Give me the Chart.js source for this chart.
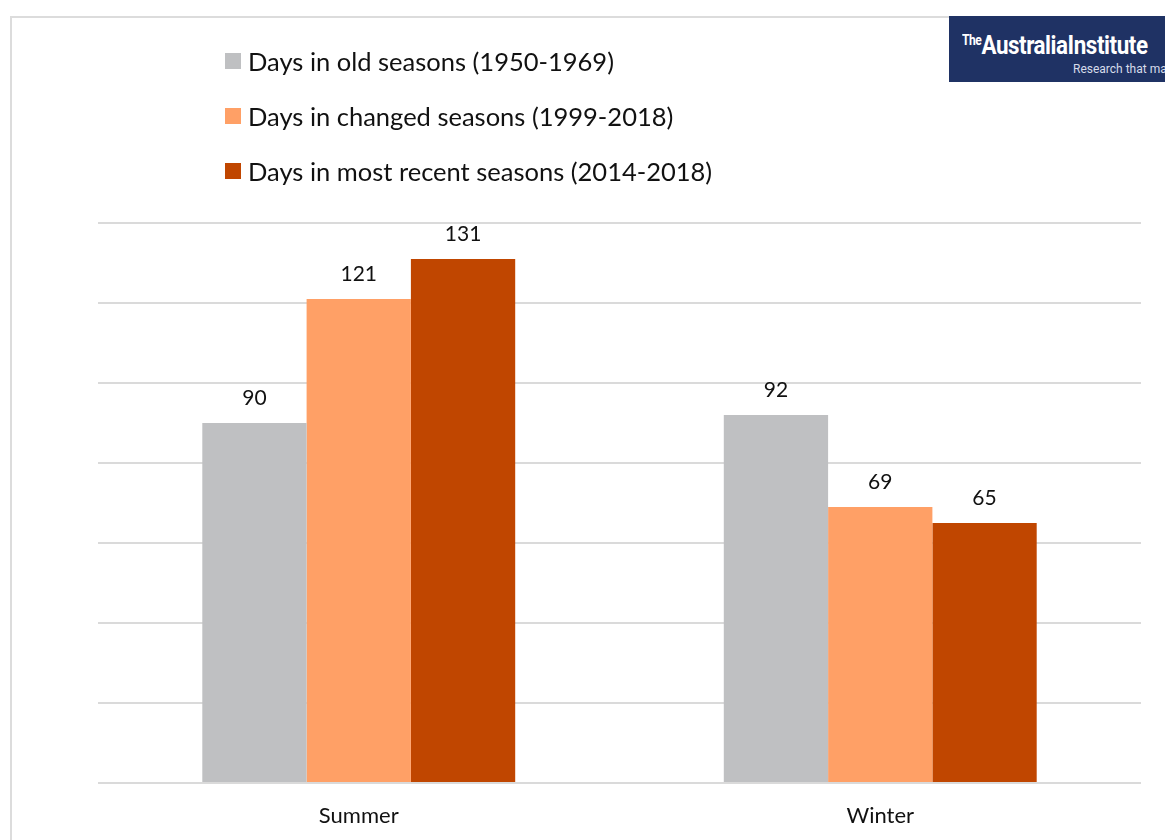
<!DOCTYPE html>
<html>
<head>
<meta charset="utf-8">
<script src="https://cdn.jsdelivr.net/npm/chart.js@4"></script>
<style>
  html, body { margin: 0; padding: 0; background: #fff; overflow: hidden; }
  #wrap { position: relative; width: 1165px; height: 840px; overflow: hidden; }
  #frame { position: absolute; left: 10px; top: 16px; width: 1200px; height: 900px; border: 2px solid #dcdcdc; box-sizing: border-box; }
  #chartCanvas { position: absolute; left: 0; top: 0; }
  #legend { position: absolute; left: 225px; top: 44px; font-family: Lato, "Open Sans", sans-serif; font-size: 25.5px; color: #111; }
  #legend .item { display: flex; align-items: center; height: 34px; margin-bottom: 21px; white-space: nowrap; }
  #legend .sw { width: 16px; height: 16px; margin-right: 7px; }
  #logo { position: absolute; left: 949px; top: 16px; width: 230px; height: 66px; background: #1f3264; color: #fff; font-family: "Liberation Sans Narrow", "Roboto", sans-serif; white-space: nowrap; }
  #logo .t1 { position: absolute; left: 13px; top: 14px; font-size: 26px; font-weight: bold; letter-spacing: -0.5px; transform: scaleX(0.86); transform-origin: left top; }
  #logo .t1 small { font-size: 14px; vertical-align: 9px; font-weight: bold; }
  #logo .t2 { position: absolute; left: 124px; top: 46px; font-size: 12px; color: #d6dcea; }
</style>
</head>
<body>
<div id="wrap">
  <div id="frame"></div>
  <canvas id="chartCanvas" width="1165" height="840"></canvas>
  <div id="legend"></div>
  <div id="logo"><div class="t1"><small>The</small>AustraliaInstitute</div><div class="t2">Research that matters</div></div>
</div>
<script>
const categories = ['Summer', 'Winter'];
const seriesNames = [
  'Days in old seasons (1950-1969)',
  'Days in changed seasons (1999-2018)',
  'Days in most recent seasons (2014-2018)'
];
const oldSeasons = [90, 92];
const changedSeasons = [121, 69];
const recentSeasons = [131, 65];
const colors = ['#bfc0c2', '#ffa066', '#c04600'];
const yTicks = [0, 20, 40, 60, 80, 100, 120, 140];

// etiquetas de valor por cima das barras
const valueLabels = {
  id: 'valueLabels',
  afterDatasetsDraw(chart) {
    const ctx = chart.ctx;
    ctx.save();
    ctx.font = '21px Lato, "Open Sans", sans-serif';
    ctx.fillStyle = '#111';
    ctx.textAlign = 'center';
    ctx.textBaseline = 'bottom';
    chart.data.datasets.forEach((ds, i) => {
      chart.getDatasetMeta(i).data.forEach((bar, j) => {
        ctx.fillText(ds.data[j], bar.x, bar.y - 14);
      });
    });
    ctx.restore();
  }
};

const chart = new Chart(document.getElementById('chartCanvas'), {
  type: 'bar',
  data: {
    labels: categories,
    datasets: [
      { label: seriesNames[0], data: oldSeasons, backgroundColor: colors[0] },
      { label: seriesNames[1], data: changedSeasons, backgroundColor: colors[1] },
      { label: seriesNames[2], data: recentSeasons, backgroundColor: colors[2] }
    ]
  },
  options: {
    responsive: false,
    animation: false,
    categoryPercentage: 0.6,
    barPercentage: 1.0,
    layout: { padding: { left: 98, right: 24, top: 223, bottom: 0 } },
    plugins: {
      legend: { display: false },
      tooltip: { enabled: false }
    },
    scales: {
      x: {
        grid: { display: false },
        border: { display: false },
        ticks: { color: '#111', font: { size: 22, family: 'Lato, "Open Sans", sans-serif' }, padding: 12 },
        afterFit: (s) => { s.height = 57; }
      },
      y: {
        min: yTicks[0],
        max: yTicks[yTicks.length - 1],
        afterBuildTicks: (s) => { s.ticks = yTicks.map(v => ({ value: v })); },
        grid: { color: '#dadada', lineWidth: 2, drawTicks: false },
        border: { display: false },
        ticks: { display: false },
        afterFit: (s) => { s.width = 0; }
      }
    }
  },
  plugins: [valueLabels]
});

// legenda em HTML, vertical
const legendEl = document.getElementById('legend');
chart.data.datasets.forEach(ds => {
  const item = document.createElement('div');
  item.className = 'item';
  item.innerHTML = '<span class="sw" style="background:' + ds.backgroundColor + '"></span><span>' + ds.label + '</span>';
  legendEl.appendChild(item);
});
</script>
</body>
</html>
